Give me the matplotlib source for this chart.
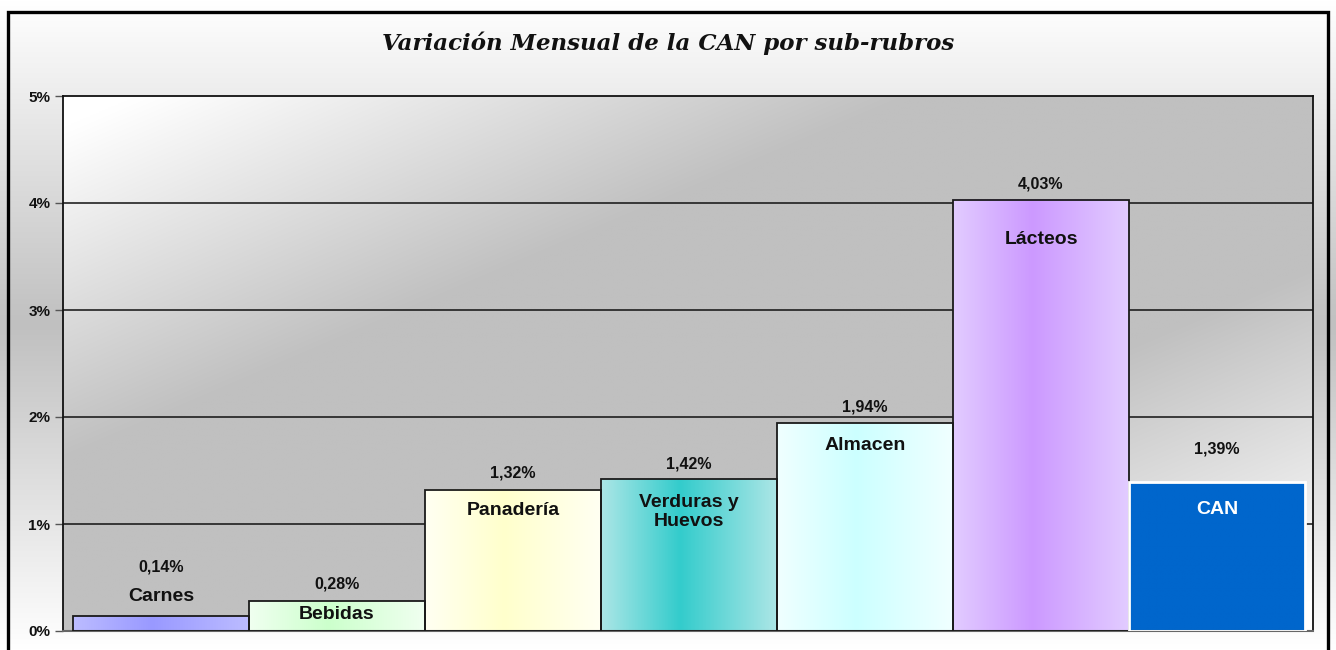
import numpy as np
import matplotlib
matplotlib.use("Agg")
import matplotlib.pyplot as plt
from matplotlib.patches import Rectangle
from matplotlib.colors import to_rgb

# ---- data ----
categories = ['Carnes', 'Bebidas', 'Panadería', 'Verduras y\nHuevos', 'Almacen', 'Lácteos', 'CAN']
values = [0.14, 0.28, 1.32, 1.42, 1.94, 4.03, 1.39]
y_ticks = [0, 1, 2, 3, 4, 5]
y_tick_labels = ['0%', '1%', '2%', '3%', '4%', '5%']
title = 'Variación Mensual de la CAN por sub-rubros'

# ---- styles ----
center_colors = ['#9999ff', '#ccffcc', '#ffffcc', '#33cccc', '#ccffff', '#cc99ff', '#0066cc']
edge_colors = ['#bcbcff', '#f0fff0', '#fffff2', '#ace6e6', '#f0ffff', '#e2ccff', '#0066cc']
# label offsets in pixels (positive = up) relative to bar top
value_off_px = [49, 17, 17, 15, 16, 16, 33]
name_off_px = [20, -13, -21, -33, -22, -40, -27]

W, H = 1336, 650
DPI = 100
fig = plt.figure(figsize=(W / DPI, H / DPI), dpi=DPI)
plt.rcParams['font.family'] = ['Liberation Sans', 'DejaVu Sans']

white = np.array([1.0, 1.0, 1.0])
gray = np.array(to_rgb('#c0c0c0'))

# figure background gradient (vertical: white -> gray -> white)
bg = fig.add_axes([0, 0, 1, 1], zorder=-10)
t = np.linspace(0, 1, 400)[:, None]
g = 1 - np.abs(t - 0.5) * 2
img = white[None, None, :] * (1 - g[..., None]) + gray[None, None, :] * g[..., None]
img = np.repeat(img, 2, axis=1)
bg.imshow(img, extent=[0, 1, 0, 1], aspect='auto', interpolation='bilinear')
bg.set_xlim(0, 1); bg.set_ylim(0, 1)
bg.axis('off')

# plot-area background gradient (diagonal, gray band in the middle)
pos = [63 / W, 19 / H, 1250 / W, 535 / H]
pbg = fig.add_axes(pos, zorder=-5)
n = 400
u = np.linspace(0, 1, n)[None, :]
v = np.linspace(0, 1, n)[:, None]  # v=0 top row
tt = (u + v) / 2
d = np.abs(tt - 0.5)
gg = np.clip((0.47 - d) / 0.31, 0, 1)
pimg = white[None, None, :] * (1 - gg[..., None]) + gray[None, None, :] * gg[..., None]
pbg.imshow(pimg, extent=[0, 1, 0, 1], aspect='auto', interpolation='bilinear', origin='upper')
pbg.set_xlim(0, 1); pbg.set_ylim(0, 1)
pbg.axis('off')

ax = fig.add_axes(pos, zorder=1)
ax.patch.set_alpha(0)

x = np.arange(len(categories))
xlim = (-0.5 - 10 / 176, 6.5 + 8 / 176)

# gridlines
for yt in y_ticks[1:-1]:
    ax.axhline(yt, color='#111111', lw=1.1, zorder=1)

# bars with horizontal gradients
for i, (xi, val) in enumerate(zip(x, values)):
    c0 = np.array(to_rgb(edge_colors[i]))
    c1 = np.array(to_rgb(center_colors[i]))
    uu = np.linspace(0, 1, 200)
    cpos = 0.45
    f = np.where(uu < cpos, uu / cpos, (1 - uu) / (1 - cpos))
    col = c0[None, :] * (1 - f[:, None]) + c1[None, :] * f[:, None]
    ax.imshow(col[None, :, :], extent=[xi - 0.5, xi + 0.5, 0, val], aspect='auto',
              interpolation='bilinear', zorder=2)
    if categories[i] == 'CAN':
        ax.bar(xi, val, width=1.0, fill=False, edgecolor='white', lw=2.0, zorder=3)
    else:
        ax.bar(xi, val, width=1.0, fill=False, edgecolor='#1a1a1a', lw=1.3, zorder=3)

px2pt = 72 / DPI
for i, (xi, val) in enumerate(zip(x, values)):
    lab = f"{val:.2f}%".replace('.', ',')
    ax.annotate(lab, (xi, val), xytext=(0, value_off_px[i] * px2pt), textcoords='offset points',
                ha='center', va='center', fontsize=11.5, fontweight='bold', color='#111111', zorder=5)
    ax.annotate(categories[i], (xi, val), xytext=(0, name_off_px[i] * px2pt), textcoords='offset points',
                ha='center', va='center', fontsize=14, fontweight='bold',
                color='white' if categories[i] == 'CAN' else '#111111', zorder=5,
                linespacing=1.1)

ax.set_xlim(*xlim)
ax.set_ylim(0, 5)
ax.set_aspect('auto')
ax.set_xticks([])
ax.set_yticks(y_ticks)
ax.set_yticklabels(y_tick_labels, fontsize=11, fontweight='bold', color='#111111')
ax.tick_params(axis='y', length=6, width=1, color='#555555', pad=3)
for s in ['top', 'right', 'left']:
    ax.spines[s].set_color('#111111')
    ax.spines[s].set_linewidth(1.3)
ax.spines['bottom'].set_color('#666666')
ax.spines['bottom'].set_linewidth(1.5)

fig.text(0.5, 1 - 43 / H, title, ha='center', va='center', fontsize=16.5,
         family='DejaVu Serif', fontweight='bold', style='italic', color='#111111')

# outer frame
fig.patches.append(Rectangle((8 / W, -0.05), 1320 / W, 1 - 12 / H + 0.05,
                             transform=fig.transFigure, fill=False, edgecolor='black',
                             lw=2.4, zorder=20))

fig.savefig('out.png', dpi=DPI)
